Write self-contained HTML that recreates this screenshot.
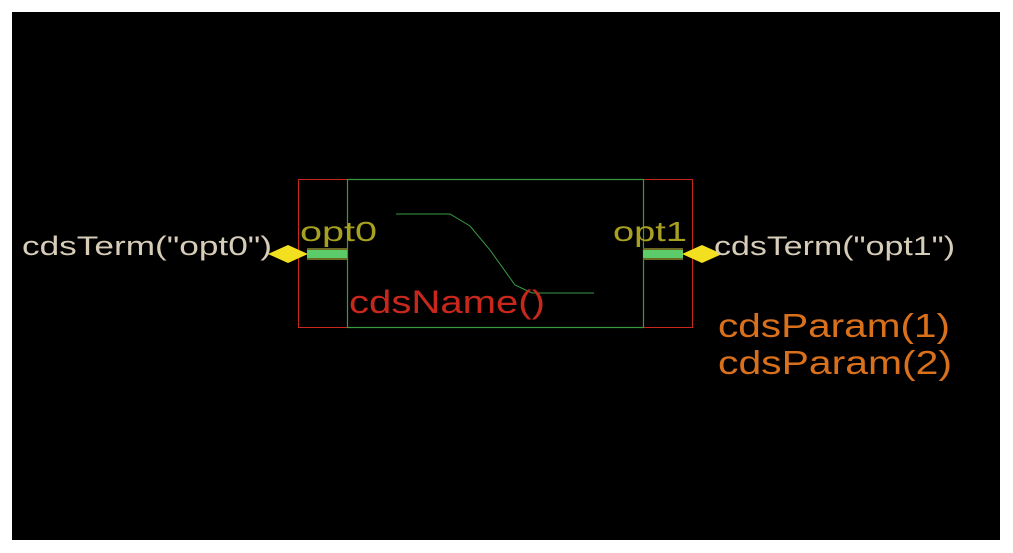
<!DOCTYPE html>
<html><head><style>body{margin:0;background:#fff}svg{display:block}</style></head><body>
<svg width="1013" height="553" xmlns="http://www.w3.org/2000/svg" font-family="Liberation Sans, sans-serif">
<rect x="0" y="0" width="1013" height="553" fill="#fff"/>
<rect x="12" y="12" width="988" height="528" fill="#000"/>
<rect x="298.5" y="179.5" width="394" height="148" fill="none" stroke="#c8281c" stroke-width="1"/>
<rect x="347.5" y="179.5" width="296" height="148" fill="none" stroke="#3a9a44" stroke-width="1.2"/>
<polyline points="396,214 450,214 470,226 490,250 515,285 532,293 594,293" fill="none" stroke="#3a9a44" stroke-width="1"/>
<rect x="307" y="248" width="40" height="12" fill="#6a6a20"/>
<rect x="307" y="250" width="40" height="8" fill="#5ccc6a"/>
<rect x="643" y="248" width="40" height="12" fill="#6a6a20"/>
<rect x="643" y="250" width="40" height="8" fill="#5ccc6a"/>
<polygon points="268,254 288,245 308,254 288,263" fill="#f2e020"/>
<polygon points="682,254 702,245 722,254 702,263" fill="#f2e020"/>
<g font-weight="normal">
<text x="22" y="255" font-size="27" fill="#d6ccb8" textLength="250" lengthAdjust="spacingAndGlyphs">cdsTerm("opt0")</text>
<text x="714" y="255" font-size="27" fill="#d6ccb8" textLength="241" lengthAdjust="spacingAndGlyphs">cdsTerm("opt1")</text>
<text x="300" y="241" font-size="28" fill="#a8a020" textLength="77" lengthAdjust="spacingAndGlyphs">opt0</text>
<text x="613" y="241" font-size="28" fill="#a8a020" textLength="74" lengthAdjust="spacingAndGlyphs">opt1</text>
<text x="349" y="313" font-size="32" fill="#c8281c" textLength="196" lengthAdjust="spacingAndGlyphs">cdsName()</text>
<text x="718" y="337" font-size="33" fill="#d8701c" textLength="232" lengthAdjust="spacingAndGlyphs">cdsParam(1)</text>
<text x="718" y="374" font-size="33" fill="#d8701c" textLength="234" lengthAdjust="spacingAndGlyphs">cdsParam(2)</text>
</g>
</svg>
</body></html>
